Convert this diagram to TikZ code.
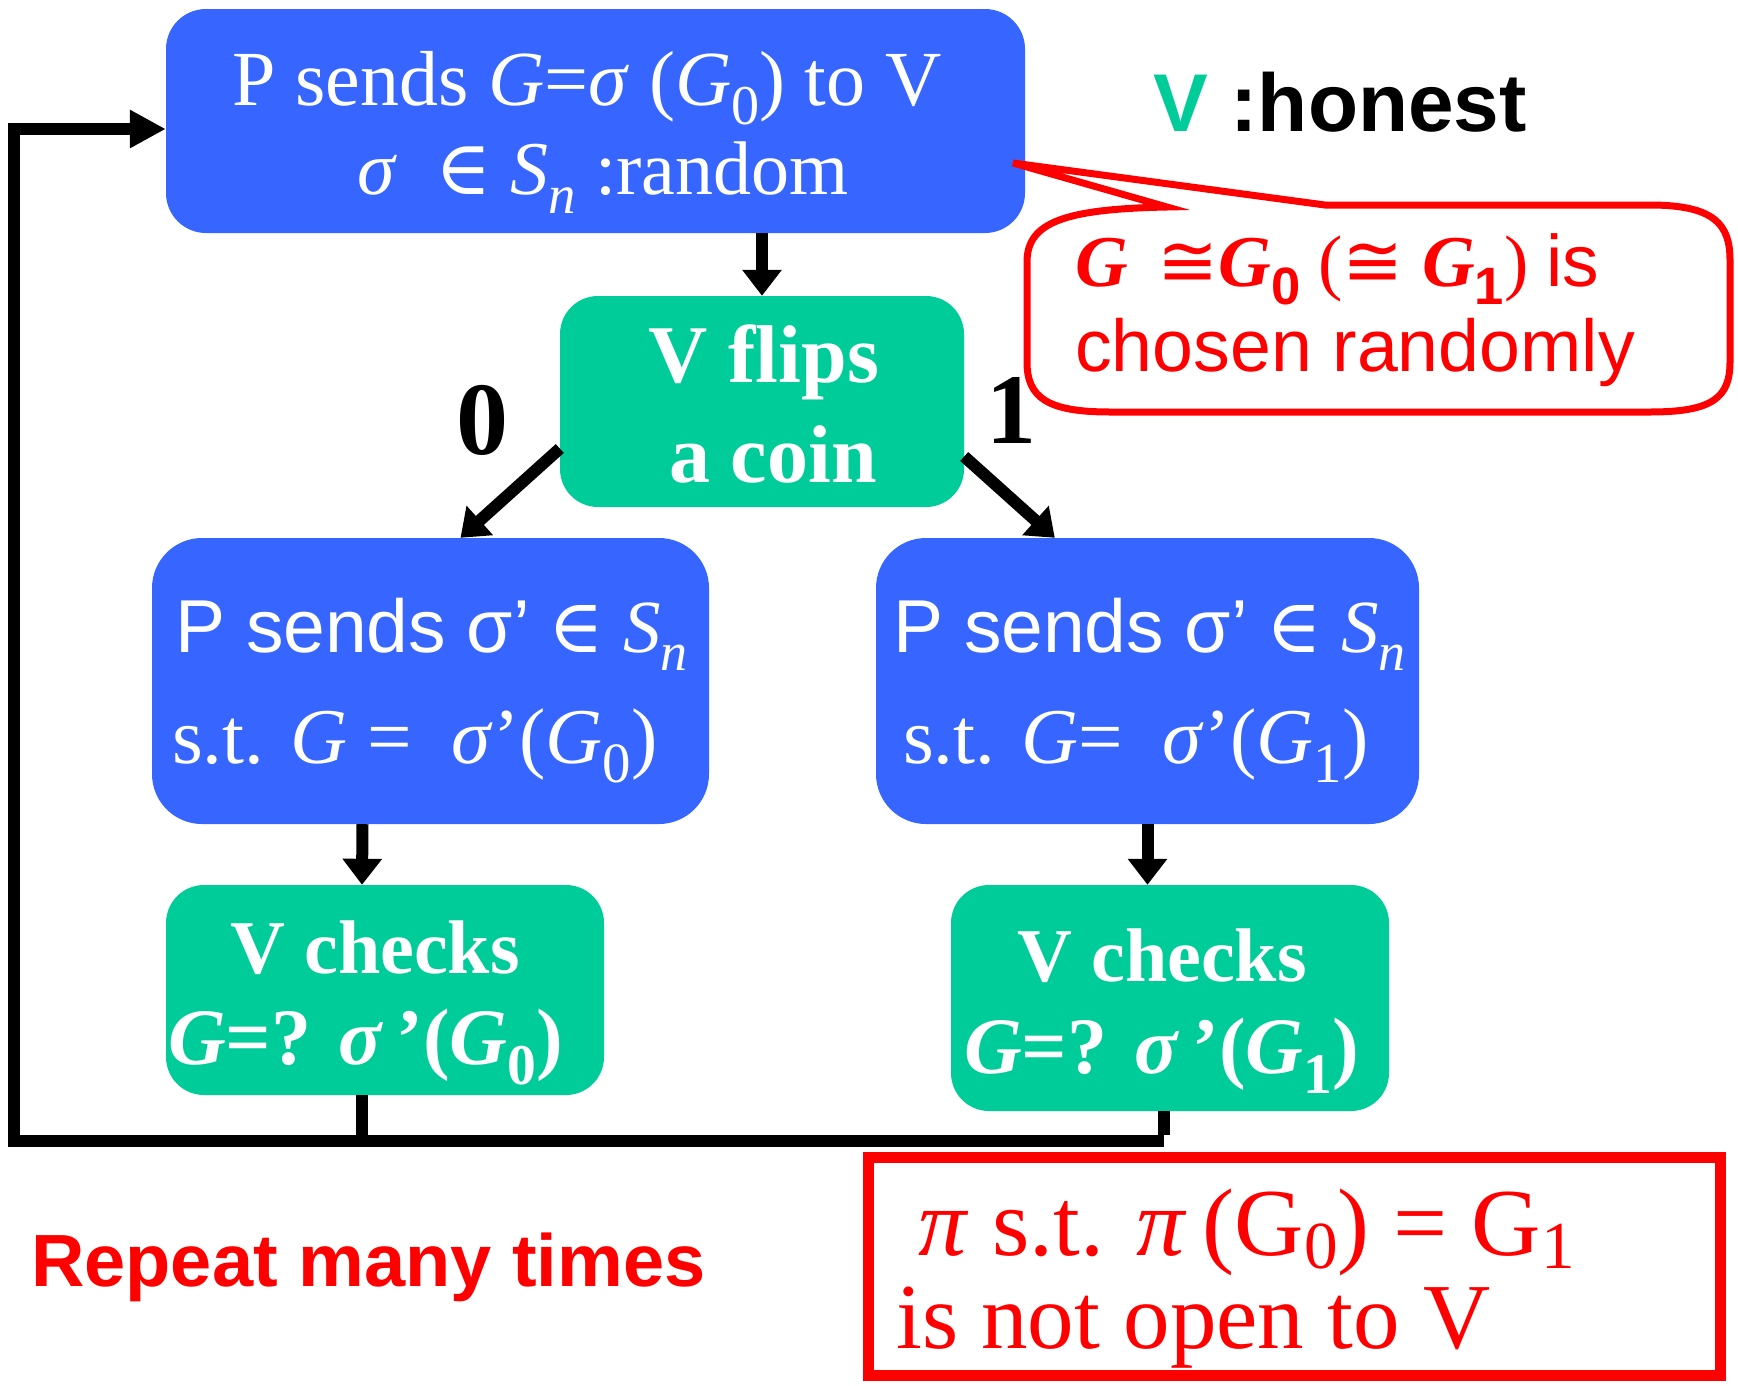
\documentclass[tikz,border=0pt]{standalone}
\usepackage{fontspec}
\usepackage{graphicx}
\setmainfont{Liberation Serif}
\setsansfont{Liberation Sans}
\newfontfamily\sym{DejaVu Serif}
\newfontfamily\symb{DejaVu Sans}
\usetikzlibrary{arrows.meta,calc}
\definecolor{pblue}{RGB}{54,102,255}
\definecolor{vgreen}{RGB}{0,204,153}
\definecolor{cred}{RGB}{255,0,0}
\newcommand\dn[1]{\raisebox{-0.25em}{\scalebox{0.72}{#1}}}
\newcommand\dnr[1]{\raisebox{-0.14em}{\scalebox{0.7}{#1}}}
\tikzset{
  bluebox/.style={fill=pblue, draw=none, rounded corners=40pt, inner sep=0pt},
  greenbox/.style={fill=vgreen, draw=none, rounded corners=38pt, inner sep=0pt},
  wt/.style={text=white, inner sep=0pt},
  flow/.style={line width=12pt, -{Triangle[length=26pt,width=38pt]}},
  loopline/.style={line width=12pt, line join=miter},
  redtxt/.style={text=cred, inner sep=0pt}
}
\begin{document}
\begin{tikzpicture}[x=1pt,y=-1pt]
\useasboundingbox (0,0) rectangle (1738,1385);
% boxes
\node[bluebox, minimum width=859pt, minimum height=224pt] (top) at (595.5,121) {};
\node[greenbox, minimum width=404pt, minimum height=211pt] (flip) at (762,401.5) {};
\node[bluebox, rounded corners=50pt, minimum width=557pt, minimum height=286pt] (midL) at (430.5,681) {};
\node[bluebox, rounded corners=50pt, minimum width=543pt, minimum height=286pt] (midR) at (1147.5,681) {};
\node[greenbox, minimum width=438pt, minimum height=210pt] (chkL) at (385,990) {};
\node[greenbox, minimum width=438pt, minimum height=226pt] (chkR) at (1170,998) {};
\node[draw=cred, line width=11pt, minimum width=852pt, minimum height=218pt, inner sep=0pt] (rbox) at (1294.5,1266.5) {};
% texts in top box
\node[wt, anchor=base, font=\fontsize{78}{80}\selectfont] (t1) at (587,105) {P sends \textit{G}=\textit{σ} (\textit{G}\dn{0}) to V};
\node[wt, anchor=base, font=\fontsize{76}{80}\selectfont] (t2) at (603,194) {\textit{σ} \ {\sym ∈} \textit{S}\dn{\textit{n}} :random};
% V honest
\node[anchor=base west, inner sep=0pt, font=\sffamily\bfseries\fontsize{82}{90}\selectfont] (hon) at (1153,131) {\textcolor{vgreen}{V} :honest};
% callout
\draw[cred, line width=7pt, line join=miter]
  (1167,207) -- (1013,163) -- (1325,205) -- (1650,205)
  .. controls (1715,205) and (1730,225) .. (1730,260) -- (1730,362)
  .. controls (1730,398) and (1712,412) .. (1650,412) -- (1110,412)
  .. controls (1048,412) and (1027,398) .. (1027,362) -- (1027,262)
  .. controls (1027,222) and (1065,209) .. (1167,207) -- cycle;
\node[redtxt, anchor=base west, font=\fontsize{73}{80}\selectfont] (c1) at (1075,286)
  {\textbf{\textit{G}}\hspace{0.4em}{\symb ≅}\textbf{\textit{G}}\dn{\sffamily\bfseries 0} ({\symb ≅} \textbf{\textit{G}}\dn{\sffamily\bfseries 1}) {\sffamily is}};
\node[redtxt, anchor=base west, font=\sffamily\fontsize{73.5}{80}\selectfont] (c2) at (1075,371) {chosen randomly};
% flip text
\node[wt, anchor=base, font=\bfseries\fontsize{82}{90}\selectfont] (f1) at (764,382) {V flips};
\node[wt, anchor=base, font=\bfseries\fontsize{82}{90}\selectfont] (f2) at (773,482) {a coin};
% branch labels
\node[anchor=base, inner sep=0pt, font=\bfseries\fontsize{104}{110}\selectfont] (l0) at (482,454) {0};
\node[anchor=base, inner sep=0pt, font=\bfseries\fontsize{100}{110}\selectfont] (l1) at (1011,443) {1};
% middle texts
\node[wt, anchor=base west, font=\fontsize{75}{80}\selectfont] (mL1) at (175,652) {{\sffamily P sends σ’} {\sym ∈} \textit{S}\dn{\textit{n}}};
\node[wt, anchor=base west, font=\fontsize{79}{80}\selectfont] (mL2) at (172,763) {s.t. \textit{G} = \ \textit{σ}’(\textit{G}\dn{0})};
\node[wt, anchor=base west, font=\fontsize{75}{80}\selectfont] (mR1) at (893,652) {{\sffamily P sends σ’} {\sym ∈} \textit{S}\dn{\textit{n}}};
\node[wt, anchor=base west, font=\fontsize{79}{80}\selectfont] (mR2) at (903,763) {s.t. \textit{G}= \ \textit{σ}’(\textit{G}\dn{1})};
% check texts
\node[wt, anchor=base, font=\bfseries\fontsize{76}{80}\selectfont] (cL1) at (375,973) {V checks};
\node[wt, anchor=base west, font=\bfseries\fontsize{80}{80}\selectfont] (cL2) at (168,1064) {\textit{G}=? \textit{σ}\,’(\textit{G}\dn{0})};
\node[wt, anchor=base, font=\bfseries\fontsize{76}{80}\selectfont] (cR1) at (1162,981) {V checks};
\node[wt, anchor=base west, font=\bfseries\fontsize{80}{80}\selectfont] (cR2) at (964,1073) {\textit{G}=? \textit{σ}\,’(\textit{G}\dn{1})};
% bottom texts
\node[redtxt, anchor=base west, font=\sffamily\bfseries\fontsize{74}{80}\selectfont] (rep) at (31,1286) {Repeat many times};
\node[redtxt, anchor=base west, font=\fontsize{96}{100}\selectfont] (r1) at (918,1255) {\textit{π} s.t. \textit{π}\,(G\dnr{0}) = G\dnr{1}};
\node[redtxt, anchor=base west, font=\fontsize{93}{100}\selectfont] (r2) at (896,1348) {is not open to V};
% connectors
\draw[flow] (flip.north |- top.south) -- (flip.north);
\draw[flow] ($(flip.west)+(0,47)$) -- ($(midL.north)+(30,0)$);
\draw[flow] ($(flip.east)+(0,55)$) -- ($(midR.north west)+(179,0)$);
\draw[flow] ($(midL.south)+(-68,0)$) -- ($(chkL.north)+(-23,0)$);
\draw[flow] (midR.south) -- (midR.south |- chkR.north);
\coordinate (jL) at (362,1141);
\coordinate (jR) at (1164,1141);
\coordinate (cBL) at (14,1141);
\coordinate (cTL) at (14,129);
\draw[loopline] (jL |- chkL.south) -- (jL);
\draw[loopline] (jR |- chkR.south) -- ([yshift=6pt]jR);
\draw[loopline, -{Triangle[length=36pt,width=36pt]}] (jR) -- (cBL) -- (cTL) -- (top.west |- cTL);
\end{tikzpicture}
\end{document}
